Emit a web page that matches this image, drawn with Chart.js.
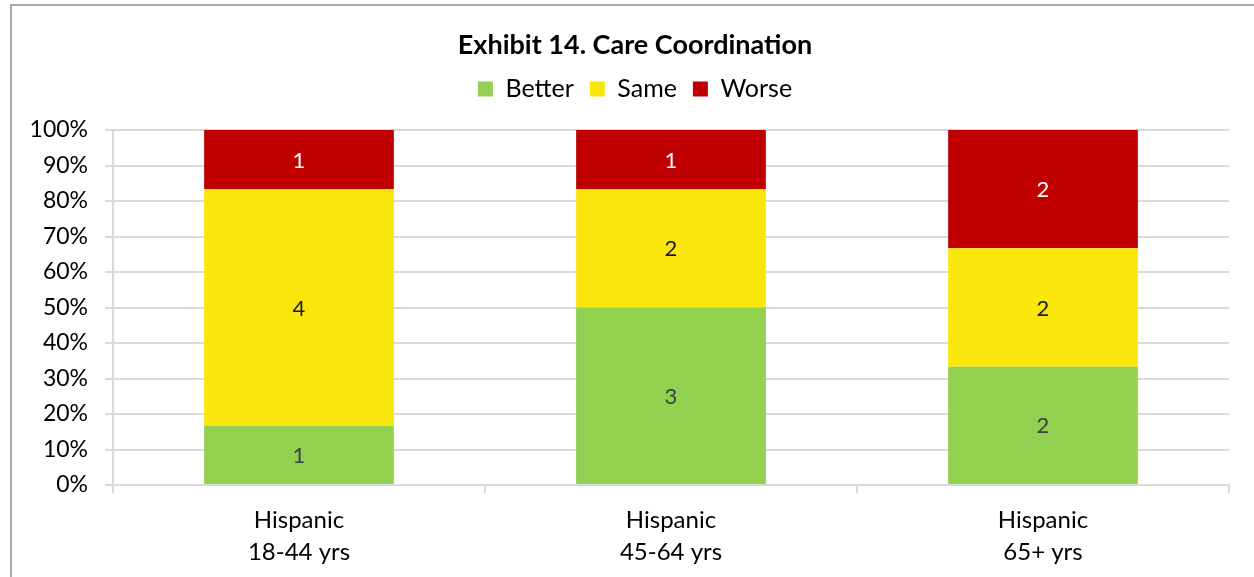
<!doctype html>
<html>
<head>
    <title>Exhibit 14. Care Coordination</title>
    <script src="https://cdn.jsdelivr.net/npm/chart.js"></script>
    <style>
        body { margin: 0; background: #fff; }
        .wrapper { position: relative; width: 1254px; height: 577px; overflow: hidden; }
        .frame { position: absolute; left: 10px; top: 4px; width: 1400px; height: 700px; border-left: 2px solid #a9a9a9; border-top: 2px solid #a9a9a9; }
        canvas { position: absolute; left: 0; top: 0; }
    </style>
</head>
<body>
    <div class="wrapper">
        <div class="frame"></div>
        <canvas id="chart" width="1254" height="577"></canvas>
    </div>

    <script>
        // Chart data
        var categories = [['Hispanic', '18-44 yrs'], ['Hispanic', '45-64 yrs'], ['Hispanic', '65+ yrs']];
        var better = [1, 3, 2];
        var same = [4, 2, 2];
        var worse = [1, 1, 2];
        var yTicks = [0, 10, 20, 30, 40, 50, 60, 70, 80, 90, 100];

        var fontFamily = "Lato, 'Open Sans', sans-serif";

        // Convert counts to share of each column
        function toPercent(arr) {
            return arr.map(function (v, i) {
                return v / (better[i] + same[i] + worse[i]) * 100;
            });
        }
        var counts = [better, same, worse];

        // Write the count in the middle of each segment
        var segmentLabels = {
            id: 'segmentLabels',
            afterDatasetsDraw: function (chart) {
                var ctx = chart.ctx;
                ctx.save();
                ctx.font = '22px ' + fontFamily;
                ctx.textAlign = 'center';
                ctx.textBaseline = 'alphabetic';
                chart.data.datasets.forEach(function (ds, d) {
                    var meta = chart.getDatasetMeta(d);
                    meta.data.forEach(function (bar, i) {
                        ctx.fillStyle = ds.labelColor;
                        ctx.fillText(counts[d][i], bar.x, (bar.y + bar.base) / 2 + 8);
                    });
                });
                ctx.restore();
            }
        };

        var ctx = document.getElementById('chart').getContext('2d');
        var chart = new Chart(ctx, {
            type: 'bar',
            data: {
                labels: categories,
                datasets: [{
                    label: 'Better',
                    data: toPercent(better),
                    backgroundColor: '#92d050',
                    labelColor: '#404040'
                }, {
                    label: 'Same',
                    data: toPercent(same),
                    backgroundColor: '#f9e70b',
                    labelColor: '#1a1a1a'
                }, {
                    label: 'Worse',
                    data: toPercent(worse),
                    backgroundColor: '#c00000',
                    labelColor: '#ffffff'
                }]
            },
            options: {
                responsive: false,
                animation: false,
                categoryPercentage: 1,
                barPercentage: 0.51,
                layout: { padding: { left: 20, right: 4, top: 0, bottom: 0 } },
                plugins: {
                    tooltip: { enabled: false },
                    title: {
                        display: true,
                        text: 'Exhibit 14. Care Coordination',
                        color: '#000',
                        font: { family: fontFamily, size: 27, weight: 'bold', lineHeight: 1 },
                        padding: { top: 31.5, bottom: 2 }
                    },
                    legend: {
                        display: true,
                        weight: 1800,
                        labels: {
                            color: '#000',
                            font: { family: fontFamily, size: 25 },
                            boxWidth: 15,
                            boxHeight: 15,
                            padding: 16
                        }
                    },
                    // empty spacer between legend and plot
                    subtitle: {
                        display: true,
                        text: ' ',
                        weight: 1500,
                        font: { size: 1, lineHeight: 1 },
                        padding: { top: 0, bottom: 17.5 }
                    }
                },
                scales: {
                    x: {
                        stacked: true,
                        grid: { drawOnChartArea: false, color: '#d9d9d9', lineWidth: 2, tickLength: 8 },
                        border: { color: '#d9d9d9', width: 2 },
                        ticks: {
                            color: '#000',
                            font: { family: fontFamily, size: 24, lineHeight: 1.33 },
                            padding: 11
                        },
                        afterFit: function (scale) { scale.height = 92; }
                    },
                    y: {
                        stacked: true,
                        min: 0,
                        max: 100,
                        afterBuildTicks: function (scale) {
                            scale.ticks = yTicks.map(function (v) { return { value: v }; });
                        },
                        grid: { color: '#d9d9d9', lineWidth: 2, tickLength: 8 },
                        border: { color: '#d9d9d9', width: 2 },
                        ticks: {
                            color: '#000',
                            font: { family: fontFamily, size: 23 },
                            padding: 17,
                            callback: function (v) { return v + '%'; }
                        },
                        afterFit: function (scale) { scale.width = 93; }
                    },
                    // blank right margin so the title and legend sit centred on the frame
                    yRight: {
                        position: 'right',
                        min: 0,
                        max: 100,
                        grid: { display: false },
                        border: { display: false },
                        ticks: { display: false },
                        afterFit: function (scale) { scale.width = 21; }
                    }
                }
            },
            plugins: [segmentLabels]
        });
    </script>
</body>
</html>
